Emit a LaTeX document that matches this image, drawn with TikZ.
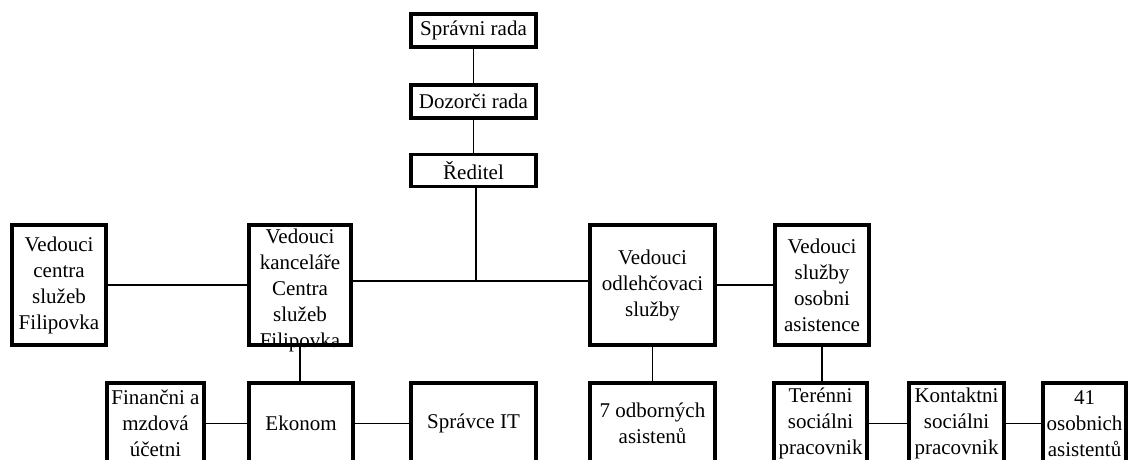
\documentclass[tikz,border=0pt]{standalone}
\usepackage{fontspec}
\setmainfont{Liberation Serif}
\usepackage{tikz}

\begin{document}
\begin{tikzpicture}[x=1pt,y=-1pt,
  box/.style={draw,line width=3.5pt,fill=white,align=center,inner sep=0pt,
    font=\fontsize{21}{26}\selectfont},
  spoj/.style={line width=1.4pt}]
\clip (0,0) rectangle (1130,459);
\begin{scope}[shift={(0,0)}]
% vedeni
\node[box,minimum width=125pt,minimum height=33pt] (spravni) at (473.5,30.5) {Správni rada};
\node[box,minimum width=125pt,minimum height=33pt] (dozorci) at (473.5,101.5) {Dozorči rada};
\node[box,minimum width=125pt,minimum height=32pt] (reditel) at (473.5,170.5) {Ředitel};
% vedouci
\node[box,minimum width=94pt,minimum height=120pt] (centra) at (59,285) {Vedouci\\centra\\služeb\\Filipovka};
\node[box,minimum width=102pt,minimum height=120pt] (kancelar) at (300,285) {};
\node[align=center,inner sep=0pt,font=\fontsize{21}{26}\selectfont] (kancelartext) at (300,290) {Vedouci\\kanceláře\\Centra\\služeb\\Filipovka};
\node[box,minimum width=125pt,minimum height=120pt] (odlehc) at (652.5,285) {Vedouci\\odlehčovaci\\služby};
\node[box,minimum width=94pt,minimum height=120pt] (osobni) at (822,285) {Vedouci\\služby\\osobni\\asistence};
% spodni rada
\node[box,minimum width=97pt,minimum height=81pt] (financni) at (155.5,423.5) {Finančni a\\mzdová\\účetni};
\node[box,minimum width=104pt,minimum height=81pt] (ekonom) at (301,423.5) {Ekonom};
\node[box,minimum width=125pt,minimum height=81pt] (spravce) at (473.5,423.5) {Správce IT};
\node[box,minimum width=125pt,minimum height=81pt] (odborni) at (652.5,423.5) {7 odborných\\asistenů};
\node[box,minimum width=93pt,minimum height=81pt] (terenni) at (820.5,423.5) {Terénni\\sociálni\\pracovnik};
\node[box,minimum width=95pt,minimum height=81pt] (kontakt) at (956.5,423.5) {Kontaktni\\sociálni\\pracovnik};
\node[box,minimum width=83pt,minimum height=81pt] (asist) at (1084.5,423.5) {41\\osobnich\\asistentů};
\coordinate (uzel) at (476,281);
\draw[spoj] (spravni.south) -- (dozorci.north);
\draw[spoj] (dozorci.south) -- (reditel.north);
\draw[spoj] (reditel.south -| uzel) -- (uzel);
\draw[spoj] (kancelar.east |- uzel) -- (odlehc.west |- uzel);
\draw[spoj] (centra.east) -- (kancelar.west);
\draw[spoj] (odlehc.east) -- (osobni.west);
\draw[spoj] (kancelar.south) -- (kancelar.south |- ekonom.north);
\draw[spoj] (odlehc.south) -- (odborni.north);
\draw[spoj] (osobni.south) -- (osobni.south |- terenni.north);
\draw[spoj] (financni.east) -- (ekonom.west);
\draw[spoj] (ekonom.east) -- (spravce.west);
\draw[spoj] (terenni.east) -- (kontakt.west);
\draw[spoj] (kontakt.east) -- (asist.west);
\end{scope}
\end{tikzpicture}
\end{document}
